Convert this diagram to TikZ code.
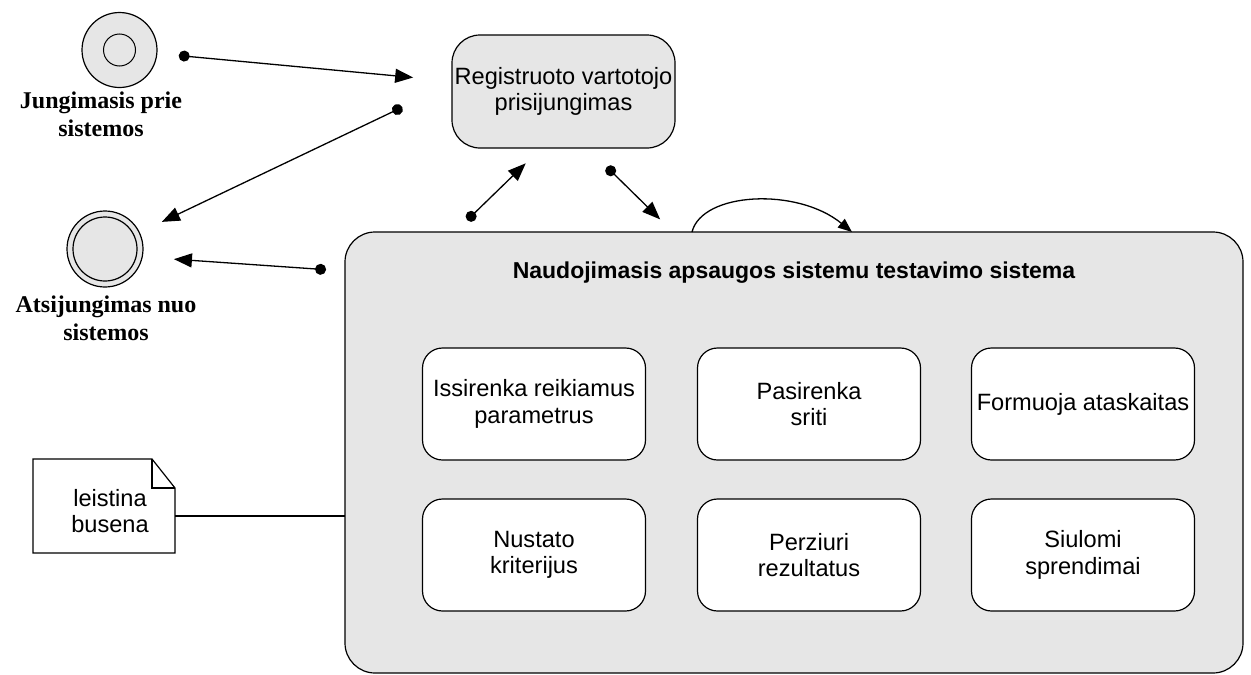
\documentclass[tikz,border=0pt]{standalone}
\usepackage{fontspec}
\setmainfont{Liberation Serif}
\setsansfont{Liberation Sans}
\usetikzlibrary{arrows.meta}
\definecolor{stategray}{HTML}{E6E6E6}

\begin{document}
\begin{tikzpicture}[x=1pt, y=-1pt,
  every node/.style={inner sep=0pt, outer sep=0pt},
  outline/.style={draw=black, line width=1.2pt},
  sanstext/.style={font=\sffamily\fontsize{23.6}{26.5}\selectfont, align=center},
  serifbold/.style={font=\rmfamily\bfseries\fontsize{24}{28}\selectfont, align=center},
  activity/.style={outline, rounded corners=20pt, fill=white,
    minimum width=223pt, minimum height=112pt, sanstext},
  pseudostate/.style={outline, circle, fill=stategray},
  conn/.style={line width=1.3pt, {Circle[length=11pt]}-{Triangle[length=18pt,width=14pt]}},
  loopconn/.style={line width=1.3pt, -{Triangle[length=14pt,width=11pt]}},
  plain/.style={line width=1.2pt}
]
\useasboundingbox (0,0) rectangle (1251,675);

% initial and final pseudostates
\node[pseudostate, minimum size=75pt] (init) at (119.5,50) {};
\draw[outline, line width=1pt] (init.center) circle[radius=16];
\node[serifbold] (initlabel) at (101,114) {Jungimasis prie\\sistemos};

\node[pseudostate, minimum size=76pt] (final) at (105,249) {};
\draw[outline] (final.center) circle[radius=32];
\node[serifbold] (finallabel) at (106,318) {Atsijungimas nuo\\sistemos};

% login state
\node[outline, rounded corners=28pt, fill=stategray, minimum width=223pt,
  minimum height=113pt, sanstext] (reg) at (563.5,91.5)
  {Registruoto vartotojo\\prisijungimas};

% composite state
\node[outline, rounded corners=30pt, fill=stategray, minimum width=898pt,
  minimum height=441pt] (big) at (794,452.5) {};
\node[font=\sffamily\bfseries\fontsize{23}{26}\selectfont] (title) at (794,273)
  {Naudojimasis apsaugos sistemu testavimo sistema};

\node[activity] (s1) at (534,404) {Issirenka reikiamus\\parametrus};
\node[activity] (s2) at (809,404) {Pasirenka\\sriti};
\node[activity] (s3) at (1083,404) {Formuoja ataskaitas};
\node[activity] (s4) at (534,555) {Nustato\\kriterijus};
\node[activity] (s5) at (809,555) {Perziuri\\rezultatus};
\node[activity] (s6) at (1083,555) {Siulomi\\sprendimai};

% note with folded corner
\node[minimum width=142pt, minimum height=94pt] (note) at (104,506) {};
\node[sanstext] (notetext) at (110,511) {leistina\\busena};
\draw[plain, line join=miter] (note.north west) -- ([xshift=-23pt]note.north east)
  -- ([yshift=-29pt]note.north east) -- (note.south east)
  -- (note.south west) -- cycle;
\draw[plain] ([xshift=-23pt]note.north east) |- ([yshift=-29pt]note.north east);
\coordinate (notejoin) at ([yshift=-10pt]note.east);
\draw[plain] (notejoin) -- (notejoin -| big.west);

% transitions
\draw[conn, shorten <=22pt, shorten >=39pt] (init) -- (reg);
\draw[conn, shorten <=55pt, shorten >=25pt] ([yshift=8pt]reg.west) -- (final);
\draw[conn, shorten <=19pt, shorten >=31pt] ([yshift=-39pt]big.north west) -- ([yshift=-8pt]final.east);
\draw[conn, shorten <=17pt, shorten >=22pt] ([xshift=110pt]big.north west) -- ([xshift=-22pt]reg.south);
\draw[conn, shorten <=27pt, shorten >=18pt] ([xshift=24pt]reg.south) -- ([xshift=-121pt]big.north);
\draw[loopconn] ([xshift=-102pt]big.north) .. controls +(10,-40) and +(-55,-45) .. ([xshift=58pt]big.north);
\end{tikzpicture}
\end{document}
